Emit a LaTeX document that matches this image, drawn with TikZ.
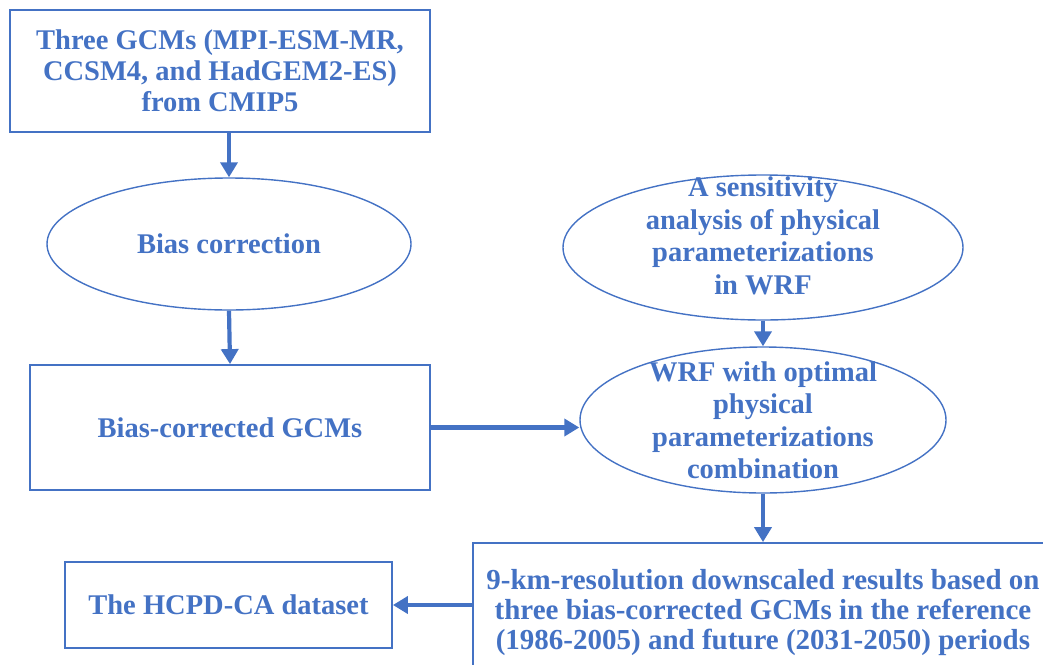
\documentclass[tikz,border=0pt]{standalone}
\usepackage{fontspec}
\setmainfont{Liberation Serif}
\usetikzlibrary{shapes.geometric,arrows.meta}
\definecolor{flowblue}{HTML}{4472C4}

\tikzset{
  box/.style={draw=flowblue, line width=1.8pt, rectangle, inner sep=0pt,
    text=flowblue, font=\bfseries\fontsize{28.5}{31}\selectfont, align=center},
  oval/.style={draw=flowblue, line width=1.4pt, ellipse, inner sep=0pt},
  txt/.style={text=flowblue, font=\bfseries\fontsize{28.5}{32.5}\selectfont, align=center},
  link/.style={draw=flowblue, line width=4.2pt, -{Triangle[length=15pt,width=17pt]}}
}

\begin{document}
\begin{tikzpicture}[x=1pt,y=-1pt]
\useasboundingbox (0,0) rectangle (1043,664);

% boxes
\node[box, minimum width=420pt, minimum height=122pt] (gcm) at (220,71)
  {Three GCMs (MPI-ESM-MR,\\CCSM4, and HadGEM2-ES)\\from CMIP5};
\node[box, minimum width=400pt, minimum height=125pt] (biasgcm) at (230,427.5) {Bias-corrected GCMs};
\node[box, minimum width=580pt, minimum height=140pt,
  font=\bfseries\fontsize{29}{30}\selectfont] (result) at (763,613)
  {9-km-resolution downscaled results based on\\three bias-corrected GCMs in the reference\\(1986-2005) and future (2031-2050) periods};
\node[box, minimum width=327pt, minimum height=86pt] (hcpd) at (228.5,605) {The HCPD-CA dataset};

% ellipses
\node[oval, minimum width=364pt, minimum height=132pt] (bias) at (229,244) {};
\node[oval, minimum width=400pt, minimum height=145pt] (sens) at (763,247.5) {};
\node[oval, minimum width=366pt, minimum height=146pt] (wrf) at (763,420) {};

\node[txt] (biastxt) at (bias.center) {Bias correction};
\node[txt] (senstxt) at (763,236) {A sensitivity\\analysis of physical\\parameterizations\\in WRF};
\node[txt] (wrftxt) at (763,420) {WRF with optimal\\physical\\parameterizations\\combination};

% arrows
\draw[link] (bias.north |- gcm.south) -- (bias.north);
\draw[link] (bias.south) -- (biasgcm.north);
\draw[link] (biasgcm.east) -- (biasgcm.east -| wrf.west);
\draw[link] (sens.south) -- (wrf.north);
\draw[link] (wrf.south) -- (wrf.south |- result.north);
\draw[link] (result.west |- hcpd.east) -- (hcpd.east);
\end{tikzpicture}
\end{document}
